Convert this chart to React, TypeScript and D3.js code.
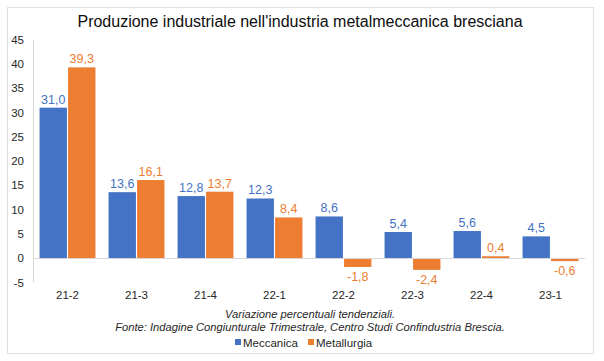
import { useEffect, useRef } from 'react';
import * as d3 from 'd3';

const categories = ['21-2', '21-3', '21-4', '22-1', '22-2', '22-3', '22-4', '23-1'];
const meccanica = [31.0, 13.6, 12.8, 12.3, 8.6, 5.4, 5.6, 4.5];
const metallurgia = [39.3, 16.1, 13.7, 8.4, -1.8, -2.4, 0.4, -0.6];
const seriesNames = ['Meccanica', 'Metallurgia'];
const yTicks = [-5, 0, 5, 10, 15, 20, 25, 30, 35, 40, 45];

const title = "Produzione industriale nell'industria metalmeccanica bresciana";
const notes = [
    'Variazione percentuali tendenziali.',
    'Fonte: Indagine Congiunturale Trimestrale, Centro Studi Confindustria Brescia.',
];

const colors = ['#4472C4', '#ED7D31'];
const fmt = (v: number) => v.toFixed(1).replace('.', ',');

export default function App() {
    const svgRef = useRef<SVGSVGElement>(null);

    useEffect(() => {
        if (!svgRef.current) return;
        const svg = d3.select(svgRef.current);
        svg.selectAll('*').remove();

        const width = 604;
        const height = 361;
        const font = '"Liberation Sans", Arial, sans-serif';
        const plot = { left: 33, right: 585, top: 39.7, bottom: 282.5 };

        svg.append('rect')
            .attr('x', 0).attr('y', 0).attr('width', width).attr('height', height)
            .attr('fill', '#fff');

        // outer frame
        svg.append('rect')
            .attr('x', 7.5).attr('y', 7.5).attr('width', 586).attr('height', 346)
            .attr('fill', 'none')
            .attr('stroke', '#e0e0e0');

        svg.append('text')
            .attr('x', 300).attr('y', 27)
            .attr('text-anchor', 'middle')
            .attr('font-family', font)
            .attr('font-size', 16)
            .attr('fill', '#0d0d0d')
            .text(title);

        const x = d3.scaleBand<string>()
            .domain(categories)
            .range([plot.left, plot.right])
            .paddingInner(0.19)
            .paddingOuter(0.095);

        const xSub = d3.scaleBand<number>()
            .domain([0, 1])
            .range([0, x.bandwidth()])
            .paddingInner(0.04);

        const y = d3.scaleLinear()
            .domain([-5, 45])
            .range([plot.bottom, plot.top]);

        // y axis line
        svg.append('line')
            .attr('x1', plot.left + 0.5).attr('x2', plot.left + 0.5)
            .attr('y1', plot.top).attr('y2', plot.bottom)
            .attr('stroke', '#d9d9d9');

        // y tick labels
        svg.append('g')
            .selectAll('text')
            .data(yTicks)
            .enter()
            .append('text')
            .attr('x', 24)
            .attr('y', d => y(d) + 4)
            .attr('text-anchor', 'end')
            .attr('font-family', font)
            .attr('font-size', 11.5)
            .attr('fill', '#262626')
            .text(d => d);

        const rows = categories.map((c, i) => ({ cat: c, values: [meccanica[i], metallurgia[i]] }));

        const groups = svg.append('g')
            .selectAll('g')
            .data(rows)
            .enter()
            .append('g')
            .attr('transform', d => `translate(${x(d.cat)},0)`);

        groups.selectAll('rect')
            .data(d => d.values.map((v, k) => ({ v, k })))
            .enter()
            .append('rect')
            .attr('x', d => xSub(d.k)!)
            .attr('width', xSub.bandwidth())
            .attr('y', d => Math.min(y(d.v), y(0)))
            .attr('height', d => Math.abs(y(d.v) - y(0)))
            .attr('fill', d => colors[d.k]);

        groups.selectAll('text')
            .data(d => d.values.map((v, k) => ({ v, k })))
            .enter()
            .append('text')
            .attr('x', d => xSub(d.k)! + xSub.bandwidth() / 2)
            .attr('y', d => d.v >= 0 ? y(d.v) - 4 : y(d.v) + 14)
            .attr('text-anchor', 'middle')
            .attr('font-family', font)
            .attr('font-size', 12.5)
            .attr('fill', d => colors[d.k])
            .text(d => fmt(d.v));

        // zero line
        svg.append('line')
            .attr('x1', plot.left).attr('x2', plot.right)
            .attr('y1', Math.round(y(0)) + 0.5).attr('y2', Math.round(y(0)) + 0.5)
            .attr('stroke', '#d9d9d9');

        // category labels
        svg.append('g')
            .selectAll('text')
            .data(categories)
            .enter()
            .append('text')
            .attr('x', d => x(d)! + x.bandwidth() / 2)
            .attr('y', 299)
            .attr('text-anchor', 'middle')
            .attr('font-family', font)
            .attr('font-size', 11.5)
            .attr('fill', '#262626')
            .text(d => d);

        // notes
        svg.append('g')
            .selectAll('text')
            .data(notes)
            .enter()
            .append('text')
            .attr('x', 310)
            .attr('y', (_d, i) => 318 + i * 12.5)
            .attr('text-anchor', 'middle')
            .attr('font-family', font)
            .attr('font-style', 'italic')
            .attr('font-size', 11.2)
            .attr('fill', '#262626')
            .text(d => d);

        // legend
        const legendX = [235, 308];
        const legend = svg.append('g')
            .selectAll('g')
            .data(seriesNames)
            .enter()
            .append('g')
            .attr('transform', (_d, i) => `translate(${legendX[i]},343)`);

        legend.append('rect')
            .attr('x', 0).attr('y', -4)
            .attr('width', 6).attr('height', 6)
            .attr('fill', (_d, i) => colors[i]);

        legend.append('text')
            .attr('x', 8).attr('y', 3.5)
            .attr('font-family', font)
            .attr('font-size', 11.5)
            .attr('fill', '#262626')
            .text(d => d);
    }, []);

    return (
        <svg ref={svgRef} width={604} height={361}
            style={{ position: 'absolute', left: 0, top: 0 }} />
    );
}
